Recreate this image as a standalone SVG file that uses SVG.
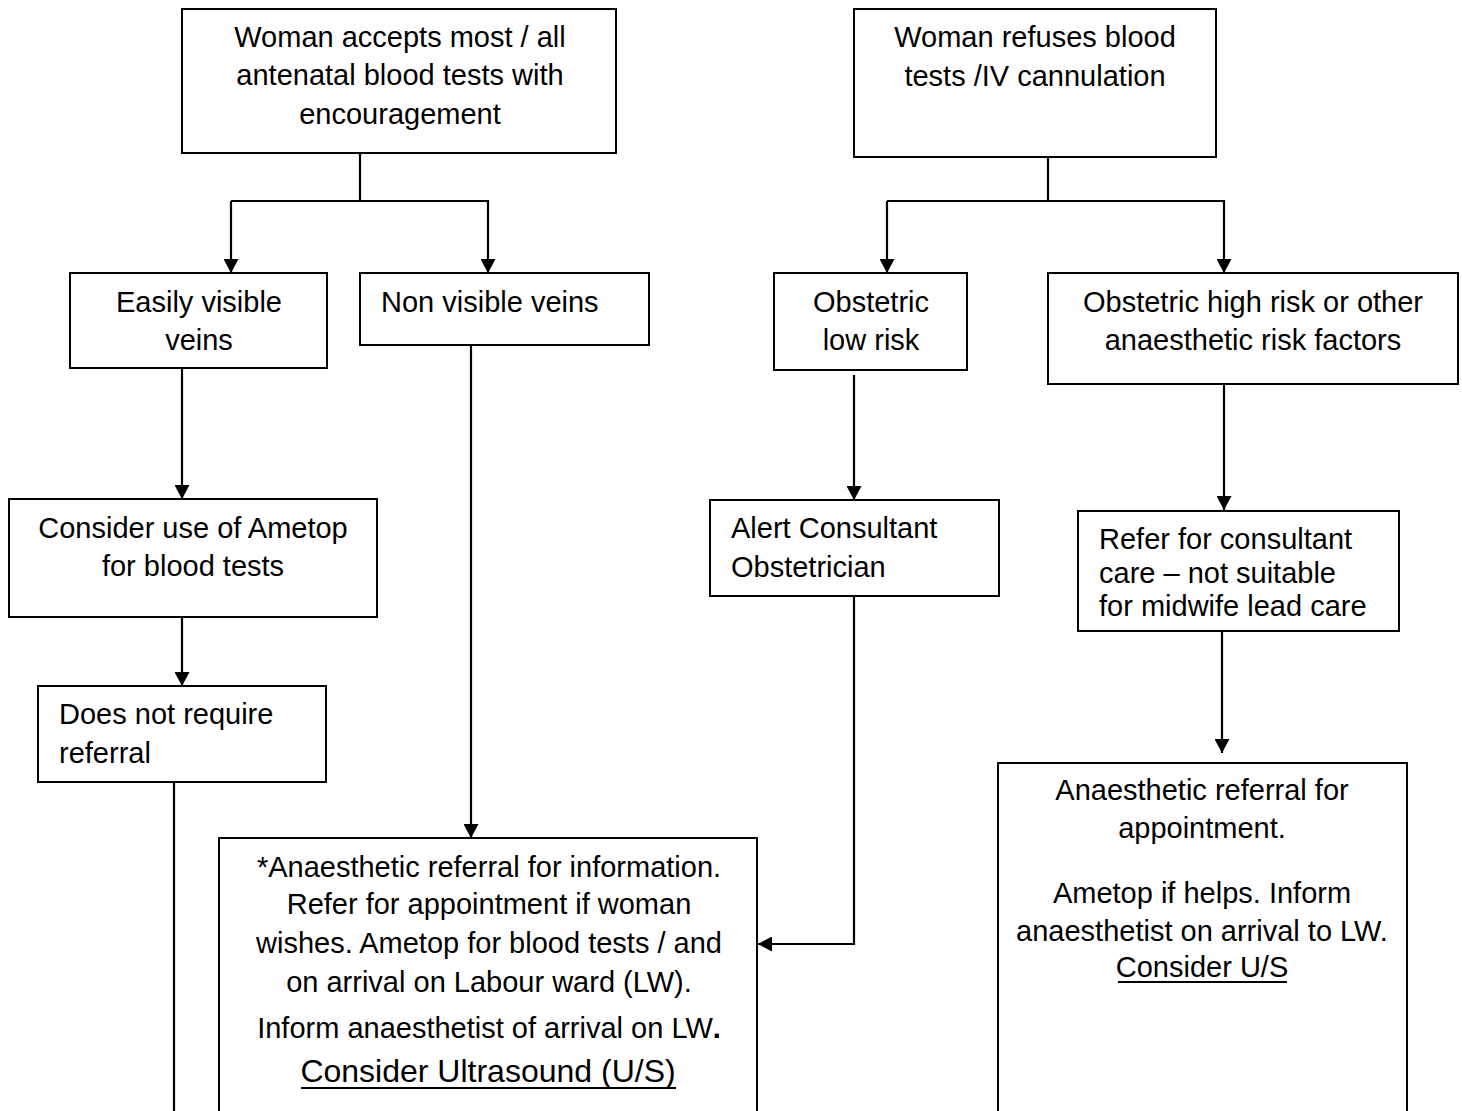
<svg xmlns="http://www.w3.org/2000/svg" width="1462" height="1111" viewBox="0 0 1462 1111">
<defs>
<style>
.box{fill:#fff;stroke:#000;stroke-width:2}
.t{font-family:"Liberation Sans",Arial,sans-serif;font-size:29px;fill:#000}
.c{text-anchor:middle}
.ln{fill:none;stroke:#000;stroke-width:2.2}
.ul{stroke:#000;stroke-width:2}
</style>
<marker id="ah" viewBox="0 0 14 15" refX="14" refY="7.5" markerWidth="14" markerHeight="15" markerUnits="userSpaceOnUse" orient="auto">
<path d="M0,0 L14,7.5 L0,15 Z" fill="#000"/>
</marker>
</defs>
<rect width="1462" height="1111" fill="#fff"/>

<g id="connectors">
<path class="ln" d="M360,153 V201"/>
<path class="ln" d="M231,201 H489"/>
<path class="ln" d="M231,201 V273" marker-end="url(#ah)"/>
<path class="ln" d="M488,201 V273" marker-end="url(#ah)"/>
<path class="ln" d="M1048,157 V201"/>
<path class="ln" d="M887,201 H1225"/>
<path class="ln" d="M887,201 V273" marker-end="url(#ah)"/>
<path class="ln" d="M1224,201 V273" marker-end="url(#ah)"/>
<path class="ln" d="M182,368 V499" marker-end="url(#ah)"/>
<path class="ln" d="M182,617 V686" marker-end="url(#ah)"/>
<path class="ln" d="M174,782 V1111"/>
<path class="ln" d="M471,345 V838" marker-end="url(#ah)"/>
<path class="ln" d="M854,375 V500" marker-end="url(#ah)"/>
<path class="ln" d="M854,596 V944 H758" marker-end="url(#ah)"/>
<path class="ln" d="M1224,384 V510" marker-end="url(#ah)"/>
<path class="ln" d="M1222,631 V753" marker-end="url(#ah)"/>
</g>

<g id="n1">
<rect class="box" x="182" y="9" width="434" height="144"/>
<text class="t c" x="400" y="47">Woman accepts most / all</text>
<text class="t c" x="400" y="85">antenatal blood tests with</text>
<text class="t c" x="400" y="124">encouragement</text>
</g>

<g id="n2">
<rect class="box" x="854" y="9" width="362" height="148"/>
<text class="t c" x="1035" y="47">Woman refuses blood</text>
<text class="t c" x="1035" y="86">tests /IV cannulation</text>
</g>

<g id="n3">
<rect class="box" x="70" y="273" width="257" height="95"/>
<text class="t c" x="199" y="312">Easily visible</text>
<text class="t c" x="199" y="350">veins</text>
</g>

<g id="n4">
<rect class="box" x="360" y="273" width="289" height="72"/>
<text class="t" x="381" y="312">Non visible veins</text>
</g>

<g id="n5">
<rect class="box" x="774" y="273" width="193" height="97"/>
<text class="t c" x="871" y="312">Obstetric</text>
<text class="t c" x="871" y="350">low risk</text>
</g>

<g id="n6">
<rect class="box" x="1048" y="273" width="410" height="111"/>
<text class="t c" x="1253" y="312">Obstetric high risk or other</text>
<text class="t c" x="1253" y="350">anaesthetic risk factors</text>
</g>

<g id="n7">
<rect class="box" x="9" y="499" width="368" height="118"/>
<text class="t c" x="193" y="538">Consider use of Ametop</text>
<text class="t c" x="193" y="576">for blood tests</text>
</g>

<g id="n8">
<rect class="box" x="710" y="500" width="289" height="96"/>
<text class="t" x="731" y="538">Alert Consultant</text>
<text class="t" x="731" y="577">Obstetrician</text>
</g>

<g id="n9">
<rect class="box" x="1078" y="511" width="321" height="120"/>
<text class="t" x="1099" y="549">Refer for consultant</text>
<text class="t" x="1099" y="583">care – not suitable</text>
<text class="t" x="1099" y="616">for midwife lead care</text>
</g>

<g id="n10">
<rect class="box" x="38" y="686" width="288" height="96"/>
<text class="t" x="59" y="724">Does not require</text>
<text class="t" x="59" y="763">referral</text>
</g>

<g id="n11">
<rect class="box" x="219" y="838" width="538" height="290"/>
<text class="t c" x="489" y="877">*Anaesthetic referral for information.</text>
<text class="t c" x="489" y="914">Refer for appointment if woman</text>
<text class="t c" x="489" y="953">wishes. Ametop for blood tests / and</text>
<text class="t c" x="489" y="992">on arrival on Labour ward (LW).</text>
<text class="t c" x="489" y="1038">Inform anaesthetist of arrival on LW<tspan font-weight="bold">.</tspan></text>
<text class="t c" x="488" y="1082" style="font-size:32px">Consider Ultrasound (U/S)</text>
<line class="ul" x1="301" y1="1088" x2="676" y2="1088" stroke-width="2.4"/>
</g>

<g id="n12">
<rect class="box" x="998" y="763" width="409" height="365"/>
<text class="t c" x="1202" y="800">Anaesthetic referral for</text>
<text class="t c" x="1202" y="838">appointment.</text>
<text class="t c" x="1202" y="903">Ametop if helps. Inform</text>
<text class="t c" x="1202" y="941">anaesthetist on arrival to LW.</text>
<text class="t c" x="1202" y="977">Consider U/S</text>
<line class="ul" x1="1118" y1="982" x2="1287" y2="982" stroke-width="1.8"/>
</g>
</svg>
